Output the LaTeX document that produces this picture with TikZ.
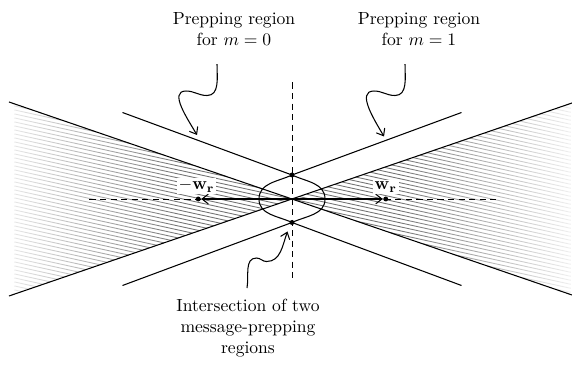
\documentclass[tikz,border=0pt]{standalone}
\usetikzlibrary{arrows.meta,fadings}
\tikzfading[name=fadeedgeleft,left color=transparent!10,right color=transparent!100]
\tikzfading[name=fadeedgeright,left color=transparent!100,right color=transparent!10]
\begin{document}
\begin{tikzpicture}[>={Straight Barb[length=3.5pt,width=5.5pt]},semithick,
  dot/.style={circle,fill,inner sep=0pt,minimum size=2.8pt},
  hatch/.style={black!55,line width=.5pt},
  guide/.style={dash pattern=on 3.5pt off 2.5pt,line width=.5pt},
  vecname/.style={fill=white,inner sep=1pt},
  caption/.style={align=center}]
\useasboundingbox (-5.84,-3.36) rectangle (5.60,3.98);
% hatched double wedge, fading out towards the edges
\begin{scope}
\clip (-5.54,1.895) -- (5.56,-1.90) -- (5.56,1.90) -- (-5.54,-1.895) -- cycle;
\foreach \c in {-3.2,-3.12,...,3.25} \draw[hatch] (-5.9,\c+1.298) -- (5.7,\c-1.254);
\fill[white,path fading=fadeedgeleft] (-5.84,-2.1) rectangle (-2.2,2.1);
\fill[white,path fading=fadeedgeright] (2.1,-2.1) rectangle (5.6,2.1);
\end{scope}
\coordinate (O) at (0,0);
\coordinate (al) at (-5.66,1.94); \coordinate (ar) at (5.6,-1.92);
\coordinate (bl) at (-5.66,-1.94); \coordinate (br) at (5.6,1.92);
\draw (al) -- (ar);
\draw (bl) -- (br);
% axes
\draw[guide] (-4.05,0) -- (4.12,0);
\draw[guide] (0,2.33) -- (0,-1.59);
\node[dot] (ttop) at (0,0.48) {};
\node[dot] (tbot) at (0,-0.47) {};
\draw (-3.39,1.73) -- (ttop.center) -- (3.39,1.73);
\draw (-3.39,-1.73) -- (tbot.center) -- (3.39,-1.73);
\draw (ttop.center) to[out=205,in=90] (-0.66,0) to[out=-90,in=155] (tbot.center)
  to[out=25,in=-90] (0.66,0) to[out=90,in=-25] (ttop.center);
\node[dot] (wneg) at (-1.875,0) {};
\node[dot] (wpos) at (1.875,0) {};
\draw[->] (O) -- (wneg);
\draw[->] (O) -- (wpos);
\node[vecname,above=2.5pt,xshift=-1pt] (lblneg) at (wneg) {$-\mathbf{w}_{\mathbf{r}}$};
\node[vecname,above=2.5pt] (lblpos) at (wpos) {$\mathbf{w}_{\mathbf{r}}$};
% captions
\node[caption] (lblzero) at (-1.16,3.39) {Prepping region\\for $m=0$};
\node[caption] (lblone) at (2.54,3.39) {Prepping region\\for $m=1$};
\node[caption] (lblcap) at (-0.88,-2.59) {Intersection of two\\message-prepping\\regions};
\coordinate (tipzero) at (-1.90,1.28);
\coordinate (tipone) at (1.84,1.25);
\coordinate (tipcap) at (-0.09,-0.65);
\draw[->] ([shift={(-0.34,-0.23)}]lblzero.south) to[out=-90,in=0] ++(-0.20,-0.63)
  to[out=180,in=0] ++(-0.42,0.09) to[out=180,in=120] (tipzero);
\draw[->] ([shift={(-0.28,-0.23)}]lblone.south) to[out=-90,in=0] ++(-0.20,-0.63)
  to[out=180,in=0] ++(-0.42,0.09) to[out=180,in=120] (tipone);
\draw[->] ([shift={(-0.02,0.10)}]lblcap.north) to[out=80,in=180] ++(0.19,0.60)
  to[out=0,in=180] ++(0.20,-0.07) to[out=0,in=-110] (tipcap);
\end{tikzpicture}
\end{document}
